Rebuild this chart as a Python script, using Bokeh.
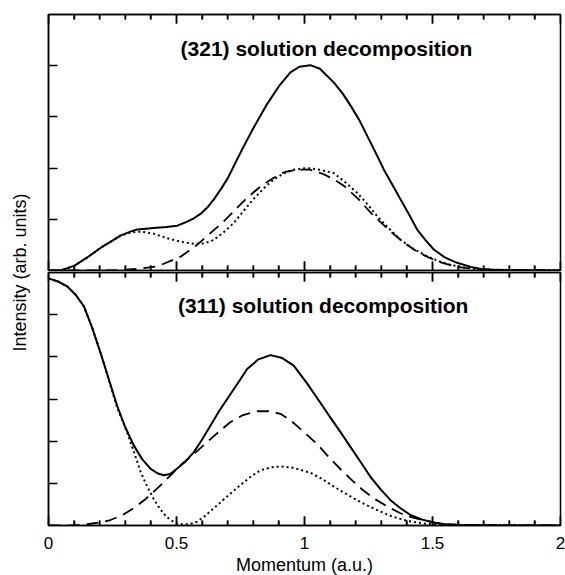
import math
from bokeh.plotting import figure
from bokeh.models import Range1d, LinearAxis, FixedTicker, Label, CustomJSTickFormatter
from bokeh.layouts import row, column
from bokeh.embed import file_html
from bokeh.resources import INLINE

# ---------------- data ----------------
# (321) panel
top_total_x = [0, 0.047, 0.10, 0.15, 0.203, 0.245, 0.281, 0.32, 0.346, 0.38, 0.41, 0.46, 0.503, 0.535,
               0.568, 0.595, 0.62, 0.646, 0.672, 0.70, 0.724, 0.757, 0.80, 0.85, 0.90, 0.945, 0.98,
               1.023, 1.06, 1.115, 1.15, 1.18, 1.215, 1.245, 1.28, 1.31, 1.345, 1.375, 1.41, 1.44,
               1.475, 1.505, 1.55, 1.596, 1.65, 1.69, 1.75, 1.85, 2.0]
top_total_y = [0, 0, 0.09, 0.25, 0.44, 0.57, 0.68, 0.76, 0.80, 0.815, 0.83, 0.85, 0.876, 0.94,
               1.02, 1.11, 1.23, 1.39, 1.58, 1.80, 2.04, 2.37, 2.78, 3.22, 3.60, 3.87, 3.98,
               4.01, 3.94, 3.67, 3.45, 3.22, 2.93, 2.63, 2.28, 1.97, 1.66, 1.39, 1.08, 0.80,
               0.58, 0.41, 0.25, 0.15, 0.07, 0.03, 0.01, 0.003, 0]

top_dot_x = [0, 0.047, 0.10, 0.15, 0.203, 0.245, 0.281, 0.32, 0.36, 0.41, 0.464, 0.52, 0.568, 0.61,
             0.646, 0.685, 0.724, 0.76, 0.80, 0.84, 0.88, 0.92, 0.958, 1.01, 1.06, 1.115, 1.16, 1.205,
             1.245, 1.284, 1.33, 1.375, 1.42, 1.466, 1.52, 1.57, 1.66, 1.75, 2.0]
top_dot_y = [0, 0, 0.09, 0.25, 0.44, 0.57, 0.68, 0.74, 0.76, 0.72, 0.63, 0.56, 0.52, 0.53,
             0.60, 0.75, 0.93, 1.15, 1.39, 1.60, 1.78, 1.90, 1.97, 2.00, 1.97, 1.90, 1.72, 1.52,
             1.30, 1.06, 0.82, 0.60, 0.44, 0.31, 0.19, 0.11, 0.03, 0.01, 0]

top_dash_x = [0, 0.2, 0.28, 0.346, 0.425, 0.516, 0.58, 0.63, 0.685, 0.73, 0.776, 0.83, 0.88, 0.92,
              0.97, 1.02, 1.075, 1.115, 1.155, 1.21, 1.26, 1.30, 1.336, 1.38, 1.427, 1.47, 1.518,
              1.596, 1.68, 2.0]
top_dash_y = [0, 0, 0.01, 0.03, 0.08, 0.27, 0.50, 0.72, 0.96, 1.19, 1.42, 1.65, 1.81, 1.92,
              1.97, 1.97, 1.88, 1.78, 1.65, 1.40, 1.12, 0.93, 0.76, 0.58, 0.41, 0.29, 0.18,
              0.07, 0.02, 0]

# (311) panel
bot_total_x = [0, 0.04, 0.073, 0.105, 0.138, 0.17, 0.203, 0.235, 0.268, 0.30, 0.333, 0.365, 0.398,
               0.425, 0.45, 0.475, 0.503, 0.535, 0.568, 0.60, 0.633, 0.665, 0.698, 0.74, 0.776, 0.82,
               0.867, 0.91, 0.958, 1.01, 1.06, 1.10, 1.14, 1.18, 1.22, 1.258, 1.30, 1.336, 1.375,
               1.414, 1.46, 1.505, 1.55, 1.596, 1.7, 1.85, 2.0]
bot_total_y = [5.86, 5.78, 5.67, 5.48, 5.20, 4.70, 4.10, 3.48, 2.84, 2.33, 1.90, 1.58, 1.35,
               1.24, 1.19, 1.22, 1.35, 1.52, 1.74, 2.04, 2.37, 2.70, 3.00, 3.38, 3.71, 3.94,
               4.04, 3.98, 3.79, 3.37, 2.93, 2.57, 2.22, 1.86, 1.50, 1.15, 0.84, 0.60, 0.41,
               0.25, 0.14, 0.07, 0.03, 0.01, 0.005, 0.002, 0]

bot_dot_x = [0, 0.04, 0.073, 0.105, 0.138, 0.17, 0.203, 0.235, 0.268, 0.307, 0.335, 0.36, 0.385,
             0.41, 0.435, 0.46, 0.49, 0.516, 0.55, 0.58, 0.61, 0.646, 0.70, 0.75, 0.79, 0.828, 0.87,
             0.906, 0.945, 0.99, 1.023, 1.07, 1.115, 1.16, 1.205, 1.25, 1.297, 1.34, 1.388, 1.43,
             1.478, 1.55, 1.65, 2.0]
bot_dot_y = [5.86, 5.78, 5.67, 5.48, 5.20, 4.70, 4.10, 3.46, 2.80, 2.21, 1.72, 1.27, 0.93,
             0.64, 0.40, 0.21, 0.08, 0.03, 0.03, 0.09, 0.22, 0.41, 0.70, 0.96, 1.16, 1.31, 1.38,
             1.40, 1.38, 1.31, 1.25, 1.10, 0.92, 0.76, 0.60, 0.46, 0.33, 0.22, 0.13, 0.08,
             0.04, 0.015, 0.005, 0]

bot_dash_x = [0, 0.10, 0.151, 0.20, 0.242, 0.29, 0.333, 0.38, 0.425, 0.47, 0.516, 0.57, 0.62, 0.665,
              0.71, 0.76, 0.815, 0.86, 0.906, 0.95, 0.997, 1.05, 1.095, 1.14, 1.186, 1.23, 1.277,
              1.33, 1.375, 1.42, 1.466, 1.51, 1.557, 1.65, 2.0]
bot_dash_y = [0, 0, 0.03, 0.07, 0.13, 0.25, 0.41, 0.63, 0.88, 1.15, 1.43, 1.71, 1.98, 2.22,
              2.45, 2.62, 2.71, 2.71, 2.65, 2.47, 2.22, 1.93, 1.62, 1.34, 1.07, 0.83, 0.62,
              0.43, 0.29, 0.19, 0.12, 0.07, 0.03, 0.01, 0]

x_major = [0, 0.5, 1, 1.5, 2]
x_minor = [0.1, 0.2, 0.3, 0.4, 0.6, 0.7, 0.8, 0.9, 1.1, 1.2, 1.3, 1.4, 1.6, 1.7, 1.8, 1.9]
top_y_ticks = [1, 2, 3, 4]
bot_y_ticks = [1, 2, 3, 4, 5]

top_title = "(321) solution decomposition"
bot_title = "(311) solution decomposition"
x_label = "Momentum (a.u.)"
y_label = "Intensity (arb. units)"

FONT = "Liberation Sans"
LW_AX = 1.5
MAJOR_LEN = 9
MINOR_LEN = 5


def hide_labels(ax):
    ax.formatter = CustomJSTickFormatter(code="return '';")
    ax.major_label_text_font_size = "1px"
    ax.major_label_standoff = 0


def style_x(ax, show_labels):
    ax.ticker = FixedTicker(ticks=x_major, minor_ticks=x_minor)
    ax.axis_line_width = LW_AX
    ax.major_tick_in = MAJOR_LEN
    ax.major_tick_out = 0
    ax.minor_tick_in = MINOR_LEN
    ax.minor_tick_out = 0
    ax.major_tick_line_width = 1.5
    ax.minor_tick_line_width = 1.5
    if show_labels:
        ax.major_label_text_font = FONT
        ax.major_label_text_font_size = "17px"
        ax.major_label_text_color = "black"
        ax.major_label_standoff = 11
        ax.axis_label = x_label
        ax.axis_label_text_font = FONT
        ax.axis_label_text_font_size = "18px"
        ax.axis_label_text_font_style = "normal"
        ax.axis_label_text_color = "black"
        ax.axis_label_standoff = 3
    else:
        hide_labels(ax)


def style_y(ax, ticks):
    ax.ticker = FixedTicker(ticks=ticks, minor_ticks=[])
    ax.axis_line_width = LW_AX
    ax.major_tick_in = MAJOR_LEN
    ax.major_tick_out = 0
    ax.minor_tick_in = 0
    ax.minor_tick_out = 0
    ax.major_tick_line_width = 1.5
    hide_labels(ax)


def edge_ticks(p, ymax, frame_h):
    # inward tick marks on the bottom and top frame edges (segments in data units)
    per_px = ymax / frame_h
    for xs, ln in ((x_major, MAJOR_LEN), (x_minor, MINOR_LEN)):
        n = len(xs)
        d = ln * per_px
        p.segment(x0=xs, y0=[0] * n, x1=xs, y1=[d] * n, line_color="black", line_width=1.5)
        p.segment(x0=xs, y0=[ymax] * n, x1=xs, y1=[ymax - d] * n, line_color="black",
                  line_width=1.5)


def panel(frame_h, ymax, yticks, bottom_labels, mb_top, mb_bottom):
    p = figure(frame_width=512, frame_height=frame_h,
               x_range=Range1d(0, 2), y_range=Range1d(0, ymax),
               toolbar_location=None, output_backend="svg",
               min_border_left=8, min_border_right=5,
               min_border_top=mb_top, min_border_bottom=mb_bottom)
    p.grid.visible = False
    p.outline_line_color = "black"
    p.outline_line_width = LW_AX
    style_x(p.xaxis[0], bottom_labels)
    style_y(p.yaxis[0], yticks)
    top_ax = LinearAxis()
    style_x(top_ax, False)
    p.add_layout(top_ax, "above")
    edge_ticks(p, ymax, frame_h)
    return p


def curves(p, xs, ys, xd, yd, xo, yo):
    p.line(xd, yd, line_color="black", line_width=1.8, line_dash="12 7", line_join="round")
    p.line(xo, yo, line_color="black", line_width=2, line_dash="2 3", line_join="round")
    p.line(xs, ys, line_color="black", line_width=2, line_join="round")


p1 = panel(256, 5, top_y_ticks, False, 14, 1)
curves(p1, top_total_x, top_total_y, top_dash_x, top_dash_y, top_dot_x, top_dot_y)
p1.add_layout(Label(x=1.0855, y=4.34, text=top_title, text_align="center",
                    text_baseline="alphabetic", text_font=FONT, text_font_size="21px",
                    text_font_style="bold", text_color="black"))

p2 = panel(253, 6, bot_y_ticks, True, 1, 0)
curves(p2, bot_total_x, bot_total_y, bot_dash_x, bot_dash_y, bot_dot_x, bot_dot_y)
p2.add_layout(Label(x=1.073, y=5.22, text=bot_title, text_align="center",
                    text_baseline="alphabetic", text_font=FONT, text_font_size="21px",
                    text_font_style="bold", text_color="black"))

lab = figure(width=40, height=575, x_range=Range1d(0, 40), y_range=Range1d(0, 575),
             x_axis_type=None, y_axis_type=None, toolbar_location=None,
             output_backend="svg", min_border=0)
lab.outline_line_color = None
lab.add_layout(Label(x=19, y=303, text=y_label, angle=math.pi / 2, text_align="center",
                     text_baseline="middle", text_font=FONT, text_font_size="18px",
                     text_color="black"))

layout = row(lab, column(p1, p2, spacing=0), spacing=0)

open("out.html", "w").write(file_html(layout, INLINE))
